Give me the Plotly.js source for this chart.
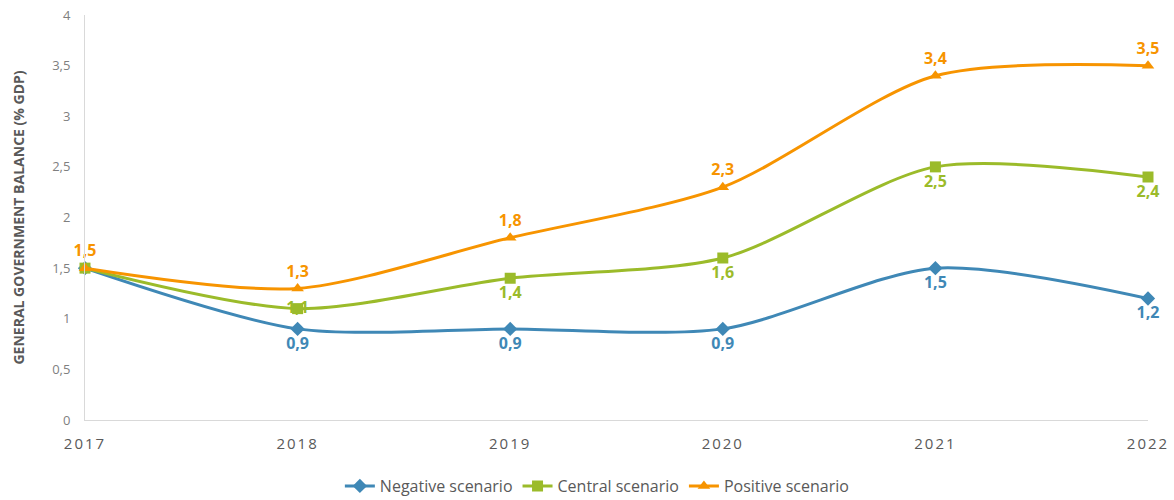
<!DOCTYPE html>
<html>
<head>
<meta charset="utf-8">
<script src="https://cdn.plot.ly/plotly-3.0.1.min.js"></script>
<style>
  body { margin: 0; background: #fff; }
  #chart { width: 1174px; height: 500px; }
  .xtick text { letter-spacing: 2px; }
</style>
</head>
<body>
<div id="chart"></div>
<script>
var years = [2017, 2018, 2019, 2020, 2021, 2022];
var negative = [1.5, 0.9, 0.9, 0.9, 1.5, 1.2];
var central = [1.5, 1.1, 1.4, 1.6, 2.5, 2.4];
var positive = [1.5, 1.3, 1.8, 2.3, 3.4, 3.5];

var font = 'Open Sans, sans-serif';

function scenario(name, y, color, symbol, size, pos, tmpl) {
  return {
    x: years,
    y: y,
    name: name,
    type: 'scatter',
    mode: 'lines+markers+text',
    line: {color: color, width: 3, shape: 'spline', smoothing: 0.8},
    marker: {symbol: symbol, size: size, color: color},
    texttemplate: tmpl,
    textposition: pos,
    textfont: {family: font, size: 16, color: color, weight: 'bold'},
    cliponaxis: false
  };
}

var v = '%{y:.1f}';
var data = [
  scenario('Negative scenario', negative, '#3f88b6', 'diamond', 11,
    'bottom center', ['', v, v, v, v, v]),
  scenario('Central scenario', central, '#9bbb2a', 'square', 11,
    ['bottom center', 'middle center', 'bottom center', 'bottom center', 'bottom center', 'bottom center'],
    ['', v, v, v, v, v]),
  scenario('Positive scenario', positive, '#f79400', 'triangle-up', 11,
    'top center', [v, v, v, v, v, v])
];

var layout = {
  separators: ',.',
  width: 1174,
  height: 500,
  margin: {l: 85, r: 26, t: 15, b: 80},
  paper_bgcolor: '#fff',
  plot_bgcolor: '#fff',
  showlegend: true,
  legend: {
    orientation: 'h',
    x: 0.482,
    xanchor: 'center',
    yref: 'container',
    y: 0.028,
    yanchor: 'middle',
    font: {family: font, size: 16, color: '#595959'},
    itemwidth: 30,
    tracegroupgap: 0
  },
  xaxis: {
    range: [2017, 2022],
    tickvals: years,
    ticktext: years.map(String),
    showgrid: false,
    zeroline: false,
    showline: true,
    linecolor: '#d9d9d9',
    linewidth: 1,
    ticks: '',
    ticklabelstandoff: 10,
    tickfont: {family: font, size: 15, color: '#595959'}
  },
  yaxis: {
    range: [0, 4],
    dtick: 0.5,
    showgrid: false,
    zeroline: false,
    showline: true,
    linecolor: '#d9d9d9',
    linewidth: 1,
    ticks: '',
    ticklabelstandoff: 11,
    tickfont: {family: font, size: 13, color: '#7f7f7f'},
    title: {
      text: 'GENERAL GOVERNMENT BALANCE (% GDP)',
      standoff: 24,
      font: {family: font, size: 14, color: '#595959', weight: 'bold'}
    }
  }
};

Plotly.newPlot('chart', data, layout, {displayModeBar: false});
</script>
</body>
</html>
